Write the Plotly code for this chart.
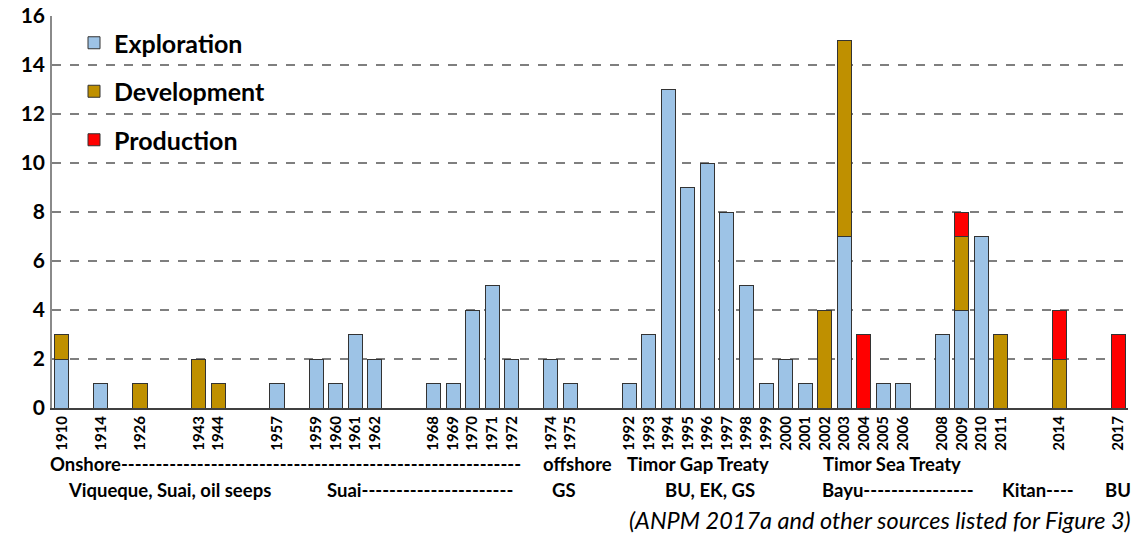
import plotly.graph_objects as go

# slot labels (empty string = empty slot on the axis)
slots = ["1910", "", "1914", "", "1926", "", "", "1943", "1944", "", "",
         "1957", "", "1959", "1960", "1961", "1962", "", "", "1968", "1969",
         "1970", "1971", "1972", "", "1974", "1975", "", "", "1992", "1993",
         "1994", "1995", "1996", "1997", "1998", "1999", "2000", "2001", "2002",
         "2003", "2004", "2005", "2006", "", "2008", "2009", "2010", "2011",
         "", "", "2014", "", "", "2017"]

exploration = {"1910": 2, "1914": 1, "1957": 1, "1959": 2, "1960": 1, "1961": 3,
               "1962": 2, "1968": 1, "1969": 1, "1970": 4, "1971": 5, "1972": 2,
               "1974": 2, "1975": 1, "1992": 1, "1993": 3, "1994": 13, "1995": 9,
               "1996": 10, "1997": 8, "1998": 5, "1999": 1, "2000": 2, "2001": 1,
               "2003": 7, "2005": 1, "2006": 1, "2008": 3, "2009": 4, "2010": 7}
development = {"1910": 1, "1926": 1, "1943": 2, "1944": 1, "2002": 4, "2003": 8,
               "2009": 3, "2011": 3, "2014": 2}
production = {"2004": 3, "2009": 1, "2014": 2, "2017": 3}

row1 = [("Onshore" + "-" * 58, 48, "left"), ("offshore", 541, "left"),
        ("Timor Gap Treaty", 625, "left"), ("Timor Sea Treaty", 821, "left")]
row2 = [("Viqueque, Suai, oil seeps", 66, "left"), ("Suai" + "-" * 22, 325, "left"),
        ("GS", 550, "left"), ("BU, EK, GS", 663, "left"), ("Bayu" + "-" * 16, 820, "left"),
        ("Kitan" + "-" * 4, 1000, "left"), ("BU", 1133, "right")]
source = "(ANPM 2017a and other sources listed for Figure 3)"

FONT = "Lato"
OFF = 8  # default page body margin
W, H = 1142 - OFF, 534 - OFF
# plot area in page pixels: x 52..1128, y 16..408
L, T = 52 - OFF, 16 - OFF
R = W - (1128 - OFF)
B = H - (408 - OFF)
pw, ph = W - L - R, H - T - B

def series(d):
    xs, ys = [], []
    for i, s in enumerate(slots):
        if s in d:
            xs.append(i)
            ys.append(d[s])
    return xs, ys

fig = go.Figure()
for name, d, col in [("Exploration", exploration, "#9DC3E6"),
                     ("Development", development, "#BF9000"),
                     ("Production", production, "#FF0000")]:
    xs, ys = series(d)
    fig.add_trace(go.Bar(x=xs, y=ys, name=name, width=0.72, legendgroup=name,
                         marker=dict(color=col, line=dict(color="#333333", width=1))))

tickvals = [i for i, s in enumerate(slots) if s]
ticktext = [s for s in slots if s]

def px2x(px):
    return (px - 52) / pw
def py2y(py):
    return (408 - py) / ph

annotations = []
for rowdef, py in [(row1, 464), (row2, 490)]:
    for txt, px, anc in rowdef:
        annotations.append(dict(text="<b>%s</b>" % txt, x=px2x(px), y=py2y(py),
                                xref="paper", yref="paper", xanchor=anc, yanchor="middle",
                                showarrow=False, font=dict(family=FONT, size=18.5, color="black")))
annotations.append(dict(text="<i>%s</i>" % source, x=px2x(1133), y=py2y(520),
                        xref="paper", yref="paper", xanchor="right", yanchor="middle",
                        showarrow=False, font=dict(family=FONT, size=23.5, color="black")))

fig.update_layout(
    width=W, height=H, barmode="stack",
    margin=dict(l=L, r=R, t=T, b=B, autoexpand=False),
    plot_bgcolor="white", paper_bgcolor="white",
    font=dict(family=FONT, color="black"),
    legend=dict(x=px2x(74), y=py2y(20), xanchor="left", yanchor="top",
                traceorder="grouped", tracegroupgap=13,
                font=dict(family=FONT, size=25, color="black", weight="bold"),
                bgcolor="rgba(0,0,0,0)"),
    xaxis=dict(range=[-0.5, len(slots) - 0.5], tickvals=tickvals, ticktext=ticktext,
               tickangle=-90, tickfont=dict(family=FONT, size=15, color="black", weight="bold"),
               showgrid=False, zeroline=False, showline=True, linecolor="#404040",
               linewidth=2, ticks="", automargin=False, ticklabeloverflow="allow"),
    yaxis=dict(range=[0, 16], dtick=2, tickfont=dict(family=FONT, size=21, color="black", weight="bold"),
               showgrid=True, gridcolor="#7f7f7f", griddash="dash", gridwidth=1.5,
               zeroline=False, showline=True, linecolor="#8a8a8a", linewidth=1.5,
               ticks="", ticklabelstandoff=1, automargin=False, ticklabeloverflow="allow"),
    annotations=annotations,
)

fig.write_html("out.html")
